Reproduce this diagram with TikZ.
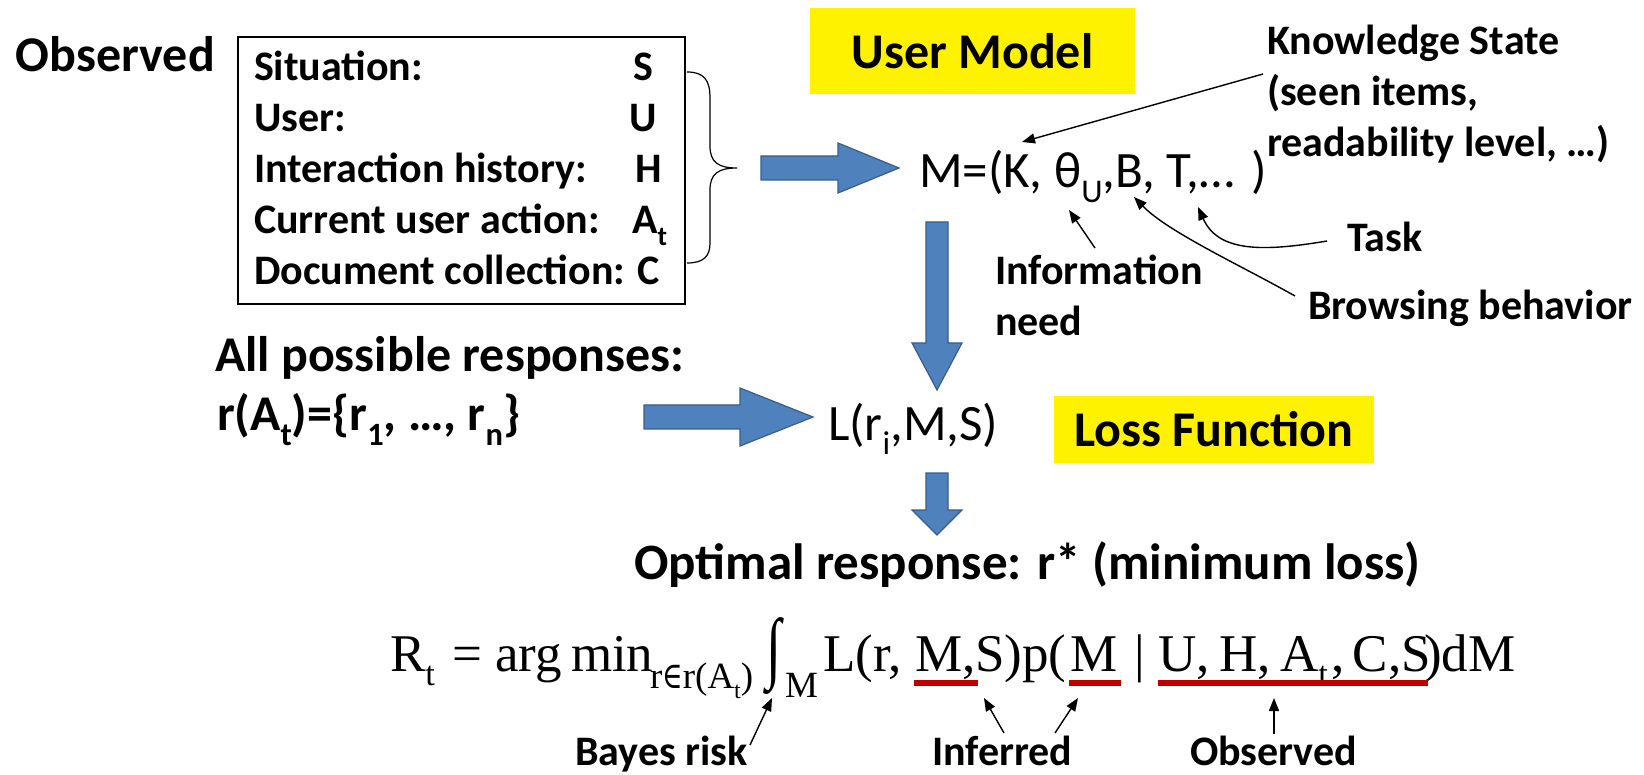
\documentclass[tikz,border=0pt]{standalone}
\usepackage{fontspec}
\setmainfont{Carlito}
\newfontfamily\eqfont{Liberation Serif}
\newfontfamily\symfont{DejaVu Serif}
\usetikzlibrary{arrows.meta}
\definecolor{blockfill}{HTML}{4F81BD}
\definecolor{blockline}{HTML}{385D8A}
\definecolor{marker}{HTML}{C00000}
\newcommand\dnsub[1]{\raisebox{-0.28em}{\scalebox{0.65}{#1}}}
% tall integral sign: ink from 24pt below the baseline to 53pt above it
\newcommand\tallint{\raisebox{-24pt}{\resizebox*{15pt}{77pt}{\raisebox{\depth}{∫}}}}
\newcommand\elem{{\symfont\scalebox{0.75}[1]{∈}}}
\begin{document}
\begin{tikzpicture}[x=1pt,y=-1pt,
  every node/.style={inner sep=0pt, outer sep=0pt, anchor=base west},
  head/.style={font=\fontsize{50}{60}\selectfont\bfseries},
  note/.style={font=\fontsize{42}{51}\selectfont\bfseries, align=left},
  boxtext/.style={font=\fontsize{42}{51}\selectfont\bfseries},
  plain/.style={font=\fontsize{51}{60}\selectfont},
  eq/.style={font=\eqfont\fontsize{53}{60}\selectfont},
  eqsub/.style={font=\eqfont\fontsize{37}{44}\selectfont},
  tag/.style={fill=yellow, anchor=center, font=\fontsize{50}{60}\selectfont\bfseries},
  block/.style={fill=blockfill, draw=blockline, line width=1.2pt},
  pointer/.style={draw, line width=1.4pt, -{Triangle[length=13pt,width=10pt]}},
  redmark/.style={draw=marker, line width=6pt},
]
\useasboundingbox (0,0) rectangle (1644,775);

% observed inputs
\node[head] (obs) at (16,72) {Observed};
\node[draw, line width=1.3pt, minimum width=447, minimum height=267, anchor=north west] (obsbox) at (238,37) {};
\node[boxtext] (l1) at (254,81)  {Situation:};
\node[boxtext] (l2) at (254,132) {User:};
\node[boxtext] (l3) at (254,183) {Interaction history:};
\node[boxtext] (l4) at (254,234) {Current user action:};
\node[boxtext] (l5) at (254,285) {Document collection: C};
\node[boxtext, anchor=base east] (v1) at (653,81)  {S};
\node[boxtext, anchor=base east] (v2) at (657,132) {U};
\node[boxtext, anchor=base east] (v3) at (662,183) {H};
\node[boxtext, anchor=base east] (v4) at (667,234) {A\dnsub{t}};

% brace grouping the inputs
\coordinate (bt) at (687,72);
\coordinate (bb) at (687,263);
\coordinate (bm) at (737,168);
\draw[line width=1.2pt] (bt) .. controls (704,72) and (710,80) .. (710,98) -- (710,146)
  .. controls (710,162) and (718,168) .. (bm)
  .. controls (718,168) and (710,174) .. (710,190) -- (710,243)
  .. controls (710,256) and (704,263) .. (bb);

% user model
\node[tag, minimum width=325, minimum height=86] (umtag) at (972.5,51) {User Model};
\node[plain] (model) at (919,188) {M=(K, θ\dnsub{U},B, T,…\hspace{0.12em} )};
\draw[block] (761,156) -- (838,156) -- (838,143) -- (899,168) -- (838,193) -- (838,180) -- (761,180) -- cycle;

\node[note] (ks) at (1267,157) {Knowledge State\\(seen items,\\readability level, …)};
\node[note] (info) at (995,336) {Information\\need};
\node[note] (task) at (1347,252) {Task};
\node[note] (brow) at (1308,320) {Browsing behavior};

\coordinate (kstail) at (1263,74);
\coordinate (kstip) at (1022,142);
\coordinate (infotail) at (1095,248);
\coordinate (infotip) at (1069,210);
\coordinate (tasktail) at (1327,241);
\coordinate (tasktip) at (1198,207);
\coordinate (browtail) at (1295,296);
\coordinate (browtip) at (1134,197);
\draw[pointer] (kstail) -- (kstip);
\draw[pointer] (infotail) -- (infotip);
\draw[pointer] (tasktail) .. controls (1262,252) and (1218,252) .. (tasktip);
\draw[pointer] (browtail) .. controls (1240,265) and (1168,232) .. (browtip);

% model down to loss
\draw[block] (926,222) -- (948,222) -- (948,343) -- (962,343) -- (937,390) -- (912,343) -- (926,343) -- cycle;

% responses and loss
\node[head] (allr) at (215,372) {All possible responses:};
\node[head] (rset) at (217,431) {r(A\dnsub{t})=\{r\dnsub{1}, …, r\dnsub{n}\}};
\draw[block] (644,405) -- (740,405) -- (740,388) -- (813,417) -- (740,446) -- (740,429) -- (644,429) -- cycle;
\node[plain] (loss) at (828,440) {L(r\dnsub{i},M,S)};
\node[tag, minimum width=320, minimum height=67] (lftag) at (1214,429.5) {Loss Function};

\draw[block] (926,473) -- (948,473) -- (948,510) -- (962,510) -- (937,535) -- (912,510) -- (926,510) -- cycle;
\node[head, font=\fontsize{51}{60}\selectfont\bfseries] (opt) at (634,579) {Optimal response: r* (minimum loss)};

% Bayes risk formula
\node[eq] (rt) at (390,671) {R\dnsub{t}};
\node[eq] (eqs) at (452,671) {=};
\node[eq] (arg) at (495,671) {arg};
\node[eq] (min) at (571,671) {min};
\node[eqsub] (minsub) at (650,688) {r\elem r(A\dnsub{t})};
\node[eq] (intg) at (766,671) {\tallint};
\node[eqsub] (intsub) at (785,697) {M};
\node[eq] (lpart) at (823,671) {L(r,};
\node[eq] (ma) at (915,671) {M};
\node[eq] (mid) at (962,671) {,S)p(};
\node[eq] (mb) at (1070,671) {M};
\node[eq] (bar) at (1134,671) {|};
\node[eq] (obsv) at (1158,671) {U,\hspace{0.18em}H,\hspace{0.18em}A\dnsub{t}\hspace{0.06em},\hspace{0.16em}C,S};
\node[eq] (tail) at (1424,671) {)dM};

\draw[redmark] (914,683) -- (978,683);
\draw[redmark] (1069,683) -- (1121,683);
\draw[redmark] (1158,683) -- (1428,683);

\node[note] (bayes) at (575,765) {Bayes risk};
\node[note] (inf) at (932,765) {Inferred};
\node[note] (obs2) at (1190,765) {Observed};

\coordinate (bayestail) at (750,745);
\coordinate (bayestip) at (772,698);
\coordinate (inftailA) at (1004,733);
\coordinate (inftipA) at (984,698);
\coordinate (inftailB) at (1055,733);
\coordinate (inftipB) at (1078,698);
\coordinate (obstail) at (1274,734);
\coordinate (obstip) at (1274,698);
\draw[pointer] (bayestail) -- (bayestip);
\draw[pointer] (inftailA) -- (inftipA);
\draw[pointer] (inftailB) -- (inftipB);
\draw[pointer] (obstail) -- (obstip);
\end{tikzpicture}
\end{document}
